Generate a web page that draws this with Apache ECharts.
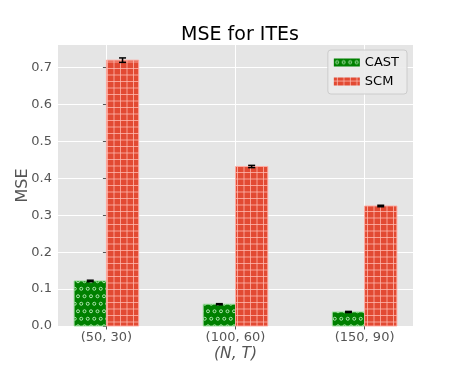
<!DOCTYPE html>
<html>
<head>
<meta charset="utf-8">
<script src="https://cdn.jsdelivr.net/npm/echarts@6/dist/echarts.min.js"></script>
<style>
  html, body { margin: 0; padding: 0; background: #fff; }
  #chart { width: 459px; height: 367px; }
</style>
</head>
<body>
<div id="chart"></div>
<script>
var categories = ["(50, 30)", "(100, 60)", "(150, 90)"];
var castValues = [0.122, 0.059, 0.038];
var castErrors = [0.002, 0.0015, 0.0015];
var scmValues = [0.720, 0.432, 0.325];
var scmErrors = [0.006, 0.003, 0.002];
var yTicks = [0, 0.1, 0.2, 0.3, 0.4, 0.5, 0.6, 0.7];

var FONT = "DejaVu Sans";

// hatch patterns, roughly like matplotlib 'o' and '+'
function dotPattern() {
  var c = document.createElement("canvas");
  c.width = 13; c.height = 15;
  var ctx = c.getContext("2d");
  ctx.fillStyle = "#008000";
  ctx.fillRect(0, 0, 13, 15);
  ctx.strokeStyle = "rgba(200,245,200,0.95)";
  ctx.lineWidth = 0.9;
  [[3.25, 3.75], [9.75, 3.75], [0, 11.25], [6.5, 11.25], [13, 11.25]].forEach(function (p) {
    ctx.beginPath();
    ctx.arc(p[0], p[1], 1.5, 0, Math.PI * 2);
    ctx.stroke();
  });
  return { image: c, repeat: "repeat" };
}
function gridPattern() {
  var c = document.createElement("canvas");
  c.width = 13; c.height = 13;
  var ctx = c.getContext("2d");
  ctx.fillStyle = "#E24A33";
  ctx.fillRect(0, 0, 13, 13);
  ctx.fillStyle = "rgba(255,190,180,0.75)";
  ctx.fillRect(3, 0, 1, 13);
  ctx.fillRect(9.5, 0, 1, 13);
  ctx.fillRect(0, 3, 13, 1);
  ctx.fillRect(0, 9.5, 13, 1);
  return { image: c, repeat: "repeat" };
}

var castFill = dotPattern();
var scmFill = gridPattern();

function barRender(x0, x1, fill, edge) {
  return function (params, api) {
    var i = api.value(0);
    var p0 = api.coord([i + x0, api.value(1)]);
    var p1 = api.coord([i + x1, 0]);
    return {
      type: "rect",
      shape: { x: p0[0], y: p0[1], width: p1[0] - p0[0], height: p1[1] - p0[1] },
      style: { fill: fill, stroke: edge, lineWidth: 1 }
    };
  };
}

function errRender(dx) {
  return function (params, api) {
    var i = api.value(0);
    var v = api.value(1), e = api.value(2);
    var top = api.coord([i + dx, v + e]);
    var bot = api.coord([i + dx, v - e]);
    var st = { stroke: "#000", lineWidth: 1.5 };
    return {
      type: "group",
      children: [
        { type: "line", shape: { x1: top[0], y1: top[1], x2: bot[0], y2: bot[1] }, style: st },
        { type: "line", shape: { x1: top[0] - 3.5, y1: top[1], x2: top[0] + 3.5, y2: top[1] }, style: st },
        { type: "line", shape: { x1: bot[0] - 3.5, y1: bot[1], x2: bot[0] + 3.5, y2: bot[1] }, style: st }
      ]
    };
  };
}

function rows(vals, errs) {
  return vals.map(function (v, i) { return [i, v, errs[i]]; });
}

var chart = echarts.init(document.getElementById("chart"));
var option = {
  animation: false,
  backgroundColor: "#fff",
  title: {
    text: "MSE for ITEs",
    left: 235, top: 21, textAlign: "center",
    textStyle: { fontFamily: FONT, fontSize: 19, fontWeight: "normal", color: "#000" }
  },
  legend: {
    right: 52, top: 50,
    orient: "vertical",
    itemWidth: 26, itemHeight: 8,
    itemGap: 6,
    padding: [6, 8, 6, 6],
    backgroundColor: "rgba(235,235,235,0.9)",
    borderColor: "#cccccc", borderWidth: 1, borderRadius: 3,
    textStyle: { fontFamily: FONT, fontSize: 13, color: "#000" },
    data: [
      { name: "CAST", icon: "rect", itemStyle: { color: castFill } },
      { name: "SCM", icon: "rect", itemStyle: { color: scmFill } }
    ]
  },
  grid: {
    left: 58, right: 46, top: 45, bottom: 41,
    outerBoundsMode: "none",
    show: true, backgroundColor: "#E5E5E5", borderWidth: 0
  },
  xAxis: {
    type: "value",
    min: -0.375, max: 2.375,
    name: "(N, T)",
    nameLocation: "middle",
    nameGap: 20,
    nameMoveOverlap: false,
    nameTextStyle: { fontFamily: FONT, fontSize: 15.5, fontStyle: "italic", color: "#555" },
    axisLine: { show: false },
    axisTick: { show: true, length: 3.5, lineStyle: { color: "#555" }, customValues: [0, 1, 2] },
    axisLabel: {
      customValues: [0, 1, 2],
      margin: 5,
      fontFamily: FONT, fontSize: 13, color: "#555",
      formatter: function (v) { return categories[Math.round(v)]; }
    },
    splitLine: { show: true, lineStyle: { color: "#fff", width: 1 } }
  },
  yAxis: {
    type: "value",
    min: 0, max: 0.761,
    name: "MSE",
    nameLocation: "middle",
    nameGap: 27,
    nameMoveOverlap: false,
    nameTextStyle: { fontFamily: FONT, fontSize: 16, color: "#555" },
    axisLine: { show: false },
    axisTick: { show: true, length: 3.5, lineStyle: { color: "#555" }, customValues: yTicks },
    axisLabel: {
      customValues: yTicks,
      margin: 6,
      fontFamily: FONT, fontSize: 13, color: "#555",
      formatter: function (v) { return v.toFixed(1); }
    },
    splitLine: { show: true, lineStyle: { color: "#fff", width: 1 } }
  },
  series: [
    {
      name: "CAST", type: "custom",
      itemStyle: { color: castFill },
      renderItem: barRender(-0.25, 0, castFill, "rgba(150,220,150,0.9)"),
      data: rows(castValues, castErrors), z: 2
    },
    {
      name: "SCM", type: "custom",
      itemStyle: { color: scmFill },
      renderItem: barRender(0, 0.25, scmFill, "rgba(255,170,160,0.9)"),
      data: rows(scmValues, scmErrors), z: 2
    },
    {
      name: "CAST err", type: "custom",
      renderItem: errRender(-0.125),
      data: rows(castValues, castErrors), z: 3
    },
    {
      name: "SCM err", type: "custom",
      renderItem: errRender(0.125),
      data: rows(scmValues, scmErrors), z: 3
    }
  ]
};
chart.setOption(option);
</script>
</body>
</html>
